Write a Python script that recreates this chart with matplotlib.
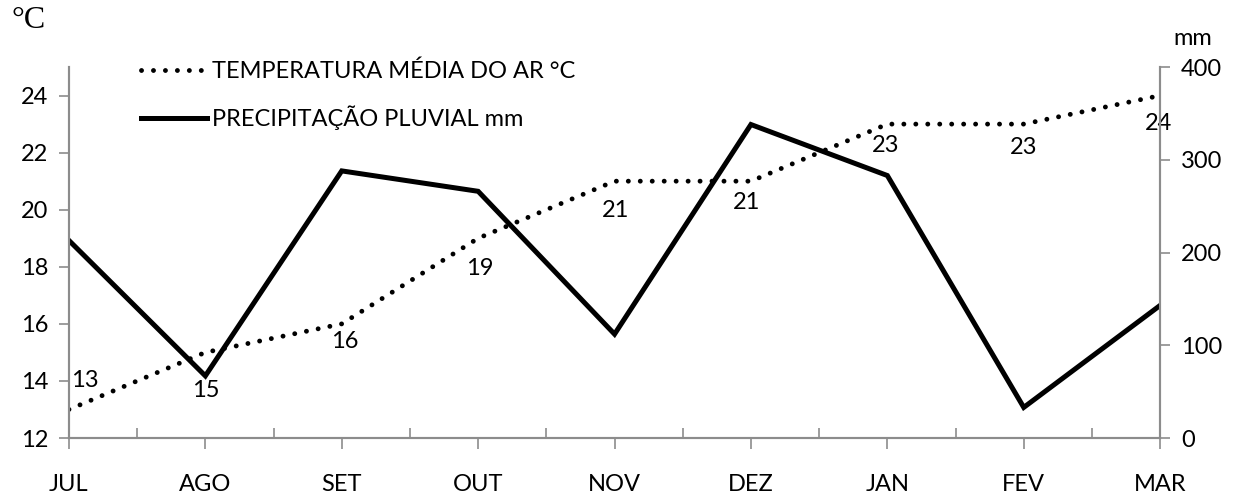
import matplotlib.pyplot as plt
import numpy as np

# monthly climate series, JUL to MAR
meses = ['JUL', 'AGO', 'SET', 'OUT', 'NOV', 'DEZ', 'JAN', 'FEV', 'MAR']
temperatura = [13, 15, 16, 19, 21, 21, 23, 23, 24]
precipitacao = [213, 67, 288, 266, 112, 338, 283, 33, 143]

# where each temperature label sits relative to its point (pixels)
offsets = [(16, 29), (0, -38), (3, -18), (2, -30), (1, -29),
           (-4, -21), (-2, -21), (0, -23), (-2, -28)]

plt.rcParams['font.family'] = ['Lato', 'DejaVu Sans']
cinza = '#8c8c8c'
fs = 17

fig = plt.figure(figsize=(12.4, 4.99), dpi=100)
ax = fig.add_axes([0.0556, 0.1222, 0.88, 0.7435])
ax2 = ax.twinx()

x = np.arange(len(meses))

l1, = ax.plot(x, temperatura, color='black', lw=3.5,
              linestyle=(0, (0.01, 2.45)), dash_capstyle='round',
              label='TEMPERATURA MÉDIA DO AR °C')
l2, = ax2.plot(x, precipitacao, color='black', lw=3.6,
               solid_joinstyle='miter', label='PRECIPITAÇÃO PLUVIAL mm')

for xi, t, (dx, dy) in zip(x, temperatura, offsets):
    ax.annotate(str(t), (xi, t), xytext=(dx, dy), textcoords='offset pixels',
                ha='center', va='center', fontsize=fs)

ax.set_xlim(0, len(meses) - 1)
ax.set_ylim(12, 25)
ax.set_yticks(range(12, 25, 2))
ax2.set_ylim(0, 400)
ax2.set_yticks(range(0, 401, 100))

ax.set_xticks(x)
ax.set_xticklabels(meses)
ax.set_xticks(x[:-1] + 0.5, minor=True)
ax.tick_params(axis='x', which='major', direction='out', length=8,
               color=cinza, width=1.2, labelsize=fs, pad=18)
ax.tick_params(axis='x', which='minor', direction='in', length=7,
               color=cinza, width=1.2)
ax.tick_params(axis='y', direction='out', length=7, color=cinza,
               width=1.2, labelsize=fs, pad=8)
ax2.tick_params(axis='y', direction='out', length=7, color=cinza,
                width=1.2, labelsize=fs, pad=8)

for a in (ax, ax2):
    a.spines['top'].set_visible(False)
    for s in ('left', 'right', 'bottom'):
        a.spines[s].set_color(cinza)
        a.spines[s].set_linewidth(1.5)

fig.text(0.009, 0.958, '°C', fontsize=23, family='Liberation Serif',
         ha='left', va='center')
fig.text(0.962, 0.922, 'mm', fontsize=fs, ha='center', va='center')

ax.legend(handles=[l1, l2], loc='upper left', bbox_to_anchor=(0.055, 1.05),
          frameon=False, fontsize=fs, handlelength=2.8, handletextpad=0.2,
          labelspacing=1.0, borderpad=0)

fig.savefig('out.png', dpi=100)
